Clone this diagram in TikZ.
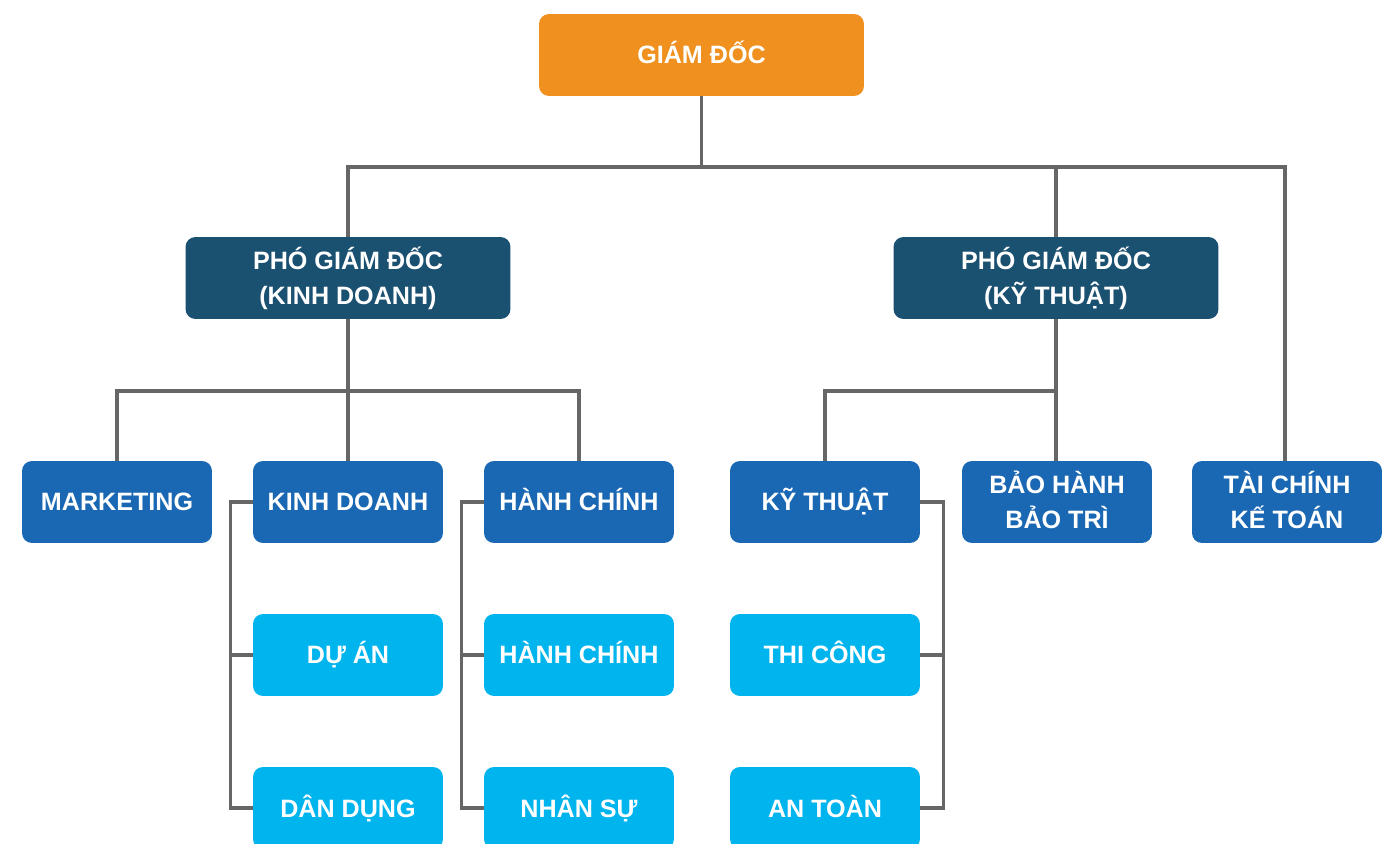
\documentclass[tikz,border=0pt]{standalone}
\usepackage{fontspec}
\setmainfont{Liberation Sans}
\usepackage{tikz}
\usepackage{xcolor}
\definecolor{boss}{HTML}{F0901F}
\definecolor{deputy}{HTML}{1A5070}
\definecolor{dept}{HTML}{1A68B3}
\definecolor{team}{HTML}{00B4EE}
\definecolor{wire}{HTML}{666666}

\begin{document}
\begin{tikzpicture}[x=0.02cm, y=-0.02cm,
  box/.style={rounded corners=0.2cm, text=white, align=center, inner sep=0pt,
    font=\bfseries\fontsize{14.3}{20}\selectfont, minimum height=1.64cm, minimum width=3.8cm,
    text height=0.36cm, text depth=0pt},
  twolines/.style={text height=1.065cm},
  wide/.style={box, minimum width=6.5cm},
  link/.style={draw=wire, line width=1.8pt}]
\clip (0, 0) rectangle (1397, 844);
\node [wide, fill=boss] (gd) at (701.5, 55) {GIÁM ĐỐC};
\node [wide, twolines, fill=deputy] (pgdkd) at (348, 278) {PHÓ GIÁM ĐỐC\\(KINH DOANH)};
\node [wide, twolines, fill=deputy] (pgdkt) at (1056, 278) {PHÓ GIÁM ĐỐC\\(KỸ THUẬT)};
\node [box, fill=dept] (mkt) at (117, 502) {MARKETING};
\node [box, fill=dept] (kd) at (348, 502) {KINH DOANH};
\node [box, fill=dept] (hc) at (579, 502) {HÀNH CHÍNH};
\node [box, fill=dept] (kt) at (825, 502) {KỸ THUẬT};
\node [box, twolines, fill=dept] (bh) at (1057, 502) {BẢO HÀNH\\BẢO TRÌ};
\node [box, twolines, fill=dept] (tc) at (1287, 502) {TÀI CHÍNH\\KẾ TOÁN};
\node [box, fill=team] (da) at (348, 655) {DỰ ÁN};
\node [box, fill=team] (hcb) at (579, 655) {HÀNH CHÍNH};
\node [box, fill=team] (tcong) at (825, 655) {THI CÔNG};
\node [box, fill=team] (dd) at (348, 808) {DÂN DỤNG};
\node [box, fill=team] (ns) at (579, 808) {NHÂN SỰ};
\node [box, fill=team] (antoan) at (825, 808) {AN TOÀN};
\coordinate (bus1) at (701.5, 167);
\coordinate (bus2) at (348, 391);
\coordinate (bus3) at (1056, 391);
\coordinate (tcdrop) at (1285, 167);
% top level
\draw [link] (gd.south) -- (bus1);
\draw [link] (pgdkd.north) |- (tcdrop) -- (tcdrop |- tc.north);
\draw [link] (pgdkt.north) -- (pgdkt.north |- bus1);
% kinh doanh branch
\draw [link] (pgdkd.south) -- (kd.north);
\draw [link] (mkt.north) |- (bus2) -| (hc.north);
% ky thuat branch
\draw [link] (pgdkt.south) -- (pgdkt.south |- bh.north);
\draw [link] (kt.north) |- (bus3);
% side brackets
\draw [link] (kd.west) -- ++(-22, 0) |- (dd.west);
\draw [link] (da.west) -- ++(-22, 0);
\draw [link] (hc.west) -- ++(-22, 0) |- (ns.west);
\draw [link] (hcb.west) -- ++(-22, 0);
\draw [link] (kt.east) -- ++(23, 0) |- (antoan.east);
\draw [link] (tcong.east) -- ++(23, 0);
\end{tikzpicture}
\end{document}
